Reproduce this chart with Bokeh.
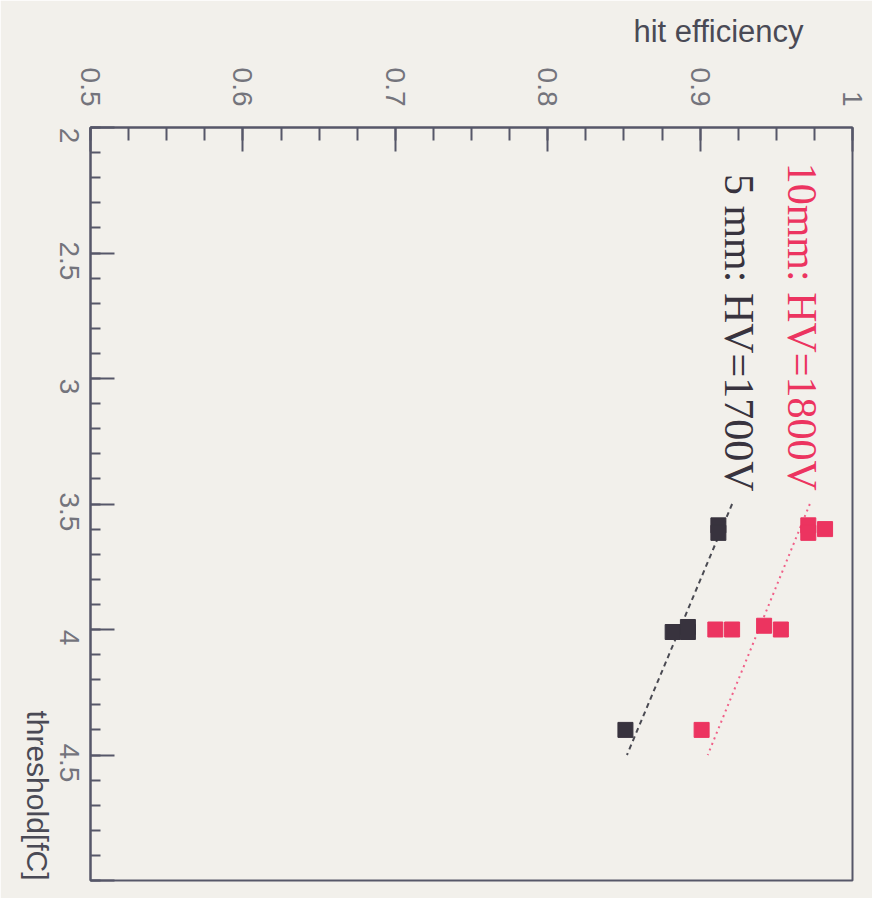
import math
import numpy as np
from bokeh.plotting import figure
from bokeh.models import Range1d, FixedTicker, Label, LinearAxis, Title
from bokeh.embed import file_html
from bokeh.resources import INLINE

# ---------------- data ----------------
# 10 mm chamber, HV = 1800 V
thr_10mm = [3.585, 3.615, 3.60, 4.0, 4.0, 3.985, 4.0, 4.40]
eff_10mm = [0.971, 0.971, 0.982, 0.910, 0.921, 0.942, 0.953, 0.901]
fit_thr_10mm = [3.5, 4.5]
fit_eff_10mm = [0.972, 0.905]

# 5 mm chamber, HV = 1700 V
thr_5mm = [3.585, 3.615, 3.99, 4.01, 4.01, 4.40]
eff_5mm = [0.912, 0.912, 0.892, 0.892, 0.882, 0.851]
fit_thr_5mm = [3.5, 4.5]
fit_eff_5mm = [0.921, 0.852]

eff_ticks = [0.5, 0.6, 0.7, 0.8, 0.9, 1.0]
eff_tick_labels = ["0.5", "0.6", "0.7", "0.8", "0.9", "1"]
thr_ticks = [2.0, 2.5, 3.0, 3.5, 4.0, 4.5, 5.0]
thr_tick_labels = ["2", "2.5", "3", "3.5", "4", "4.5", "5"]

label_10mm = "10mm: HV=1800V"
label_5mm = "5 mm: HV=1700V"
x_title = "hit efficiency"
y_title = "threshold[fC]"

# ---------------- style ----------------
BG = "#f2f0eb"
AXIS = "#565769"
TICKLAB = "#74747c"
TITLE = "#4a4a55"
RED = "#ec3460"
BLACK = "#38333e"
TICK_FS = 28
FRAME_H = 753

p = figure(
    x_range=Range1d(0.5, 1.0),
    y_range=Range1d(5.0, 2.0),
    frame_width=762, frame_height=FRAME_H,
    min_border_left=90, min_border_top=127,
    min_border_right=20, min_border_bottom=18,
    x_axis_location="above", y_axis_location="left",
    output_backend="svg", toolbar_location=None,
)
p.background_fill_color = BG
p.border_fill_color = BG
p.outline_line_color = AXIS
p.outline_line_width = 2
p.xgrid.visible = False
p.ygrid.visible = False

# top axis (efficiency)
xa = p.xaxis[0]
xa.ticker = FixedTicker(ticks=eff_ticks,
                        minor_ticks=list(np.round(np.arange(0.5, 1.0001, 0.025), 4)))
xa.major_label_overrides = {t: l for t, l in zip(eff_ticks, eff_tick_labels)}
xa.major_label_orientation = -math.pi / 2
xa.major_label_standoff = 21
xa.major_label_text_font = "Liberation Sans"
xa.major_label_text_font_size = f"{TICK_FS}px"
xa.major_label_text_color = TICKLAB
xa.axis_line_color = AXIS
xa.axis_line_width = 2
xa.major_tick_line_color = AXIS
xa.minor_tick_line_color = AXIS
xa.major_tick_line_width = 2
xa.minor_tick_line_width = 2
xa.major_tick_out = 0
xa.major_tick_in = 24
xa.minor_tick_out = 0
xa.minor_tick_in = 13

# left axis (threshold): ticks only
ya = p.yaxis[0]
ya.ticker = FixedTicker(ticks=thr_ticks,
                        minor_ticks=list(np.round(np.arange(2.0, 5.0001, 0.1), 4)))
ya.major_label_overrides = {t: "" for t in thr_ticks}
ya.major_label_standoff = 0
ya.axis_line_color = AXIS
ya.axis_line_width = 2
ya.major_tick_line_color = AXIS
ya.minor_tick_line_color = AXIS
ya.major_tick_line_width = 2
ya.minor_tick_line_width = 2
ya.major_tick_out = 0
ya.major_tick_in = 24
ya.minor_tick_out = 0
ya.minor_tick_in = 10

# left axis labels, centred on the ticks (rotated clockwise)
px_per_unit = FRAME_H / 3.0
def text_len(s):
    w = {".": 0.278}
    return sum(w.get(c, 0.556) for c in s) * TICK_FS
lab_pos = [t + (text_len(l) / 2 + 8) / px_per_unit for t, l in zip(thr_ticks, thr_tick_labels)]
lab_axis = LinearAxis(
    ticker=FixedTicker(ticks=lab_pos),
    major_label_overrides={pos: l for pos, l in zip(lab_pos, thr_tick_labels)},
    bounds=(1.5, 5.5),
    axis_line_color=None, major_tick_line_color=None, minor_tick_line_color=None,
    major_label_orientation=-math.pi / 2,
    major_label_standoff=15,
    major_label_text_font="Liberation Sans",
    major_label_text_font_size=f"{TICK_FS}px",
    major_label_text_color=TICKLAB,
    axis_label=y_title,
    axis_label_standoff=10,
    axis_label_text_font="Liberation Sans",
    axis_label_text_font_size="30px",
    axis_label_text_font_style="normal",
    axis_label_text_color=TITLE,
)
try:
    lab_axis.axis_label_orientation = 3 * math.pi / 2
    lab_axis.axis_label_align = "end"
except Exception:
    pass
p.add_layout(lab_axis, "left")

# title of the efficiency axis
p.add_layout(Title(text=x_title, align="right", offset=49, standoff=27,
                   vertical_align="top",
                   text_font="Liberation Sans", text_font_size="31px",
                   text_font_style="normal", text_color=TITLE), "above")

# fit lines
p.line(fit_eff_5mm, fit_thr_5mm, line_color="#4a4a52", line_width=2, line_dash="5 4")
p.line(fit_eff_10mm, fit_thr_10mm, line_color="#f06088", line_width=2, line_dash="2 4")

# data points
p.scatter(eff_5mm, thr_5mm, marker="square", size=15, fill_color=BLACK, line_color=BLACK)
p.scatter(eff_10mm, thr_10mm, marker="square", size=15, fill_color=RED, line_color=RED)

# legend texts (rotated clockwise)
p.add_layout(Label(x=0.967, y=2.14, text=label_10mm, angle=-math.pi / 2,
                   text_align="left", text_baseline="middle",
                   text_font="Liberation Serif", text_font_size="42px",
                   text_color=RED))
p.add_layout(Label(x=0.9254, y=2.185, text=label_5mm, angle=-math.pi / 2,
                   text_align="left", text_baseline="middle",
                   text_font="Liberation Serif", text_font_size="42px",
                   text_color=BLACK))

open("out.html", "w").write(file_html(p, INLINE))
